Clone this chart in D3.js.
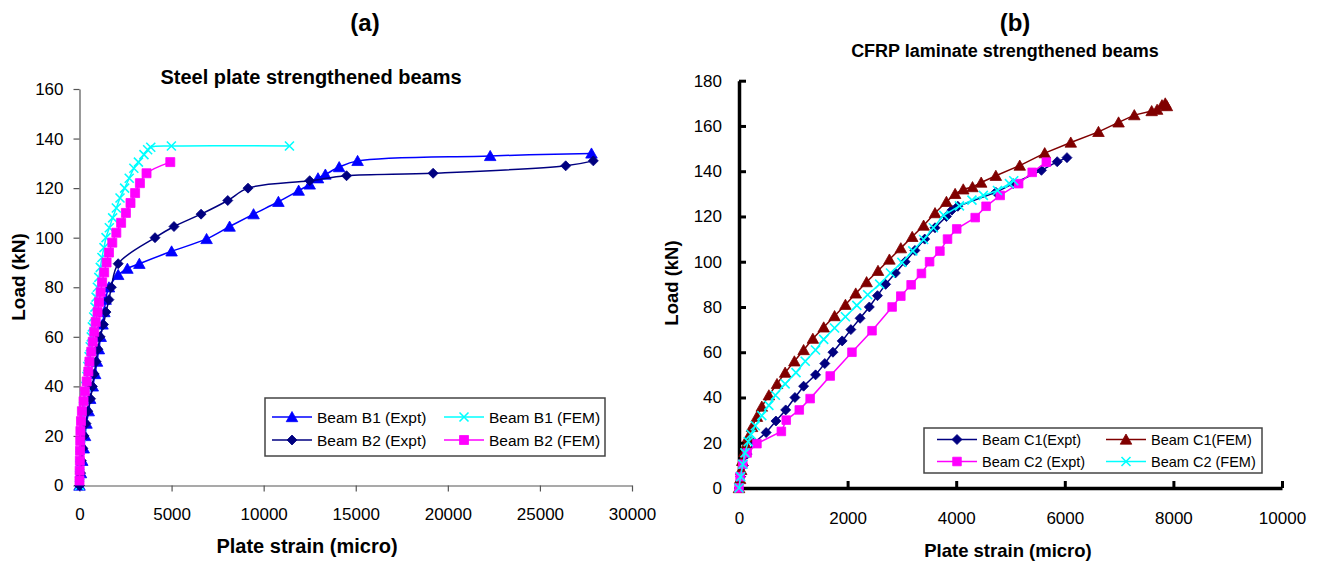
<!DOCTYPE html>
<html lang="en">
<head>
    <meta charset="UTF-8">
    <title>Load vs plate strain</title>
    <style>
        body { margin: 0; background: #fff; }
        text { font-family: "Liberation Sans", Arial, sans-serif; }
    </style>
</head>
<body>
<script src="https://d3js.org/d3.v7.min.js"></script>
<div id="chart"></div>
<script>

// ---- data: [plate strain (micro), load (kN)] ----

// (a) steel plate strengthened beams
const b1Expt = [[0,0],[80,5],[150,10],[230,15],[300,20],[380,25],[500,30],[580,35],[720,40],[850,45],[950,50],
    [1050,55],[1150,60],[1250,65],[1350,70],[1420,75],[1600,80],[2100,85],[2600,87.5],[3250,89.5],[5000,94.5],
    [6900,99.5],[8150,104.5],[9450,109.5],[10800,114.5],[11900,119],[12500,121.5],[12950,124],[13350,125.5],
    [14100,128.5],[15100,131],[22300,133],[27800,134]];
const b1Fem = [[0,0],[10,4],[20,8],[40,12],[60,16],[90,20],[130,24],[180,28],[220,32],[280,36],[340,40],[400,44],
    [450,48],[520,52],[580,56],[640,60],[700,64],[770,68],[840,72],[900,76],[970,80],[1050,84],[1130,88],
    [1220,92],[1330,96],[1440,100],[1620,104],[1800,108],[2000,112],[2200,116],[2450,120],[2700,124],
    [2950,128],[3200,130.5],[3500,133.5],[3700,135.5],[3870,136.5],[4990,137],[11400,137]];
const b2Expt = [[0,0],[60,5],[100,10],[180,15],[250,20],[350,25],[450,30],[600,35],[700,40],[800,45],[900,50],
    [1000,55],[1120,60],[1300,65],[1440,70],[1600,75],[1730,80],[2100,89.5],[4100,100],[5130,104.5],
    [6600,109.5],[8050,115],[9150,120],[12500,123],[14500,125],[19200,126],[26400,129],[27900,131]];
const b2Fem = [[0,2],[10,6],[20,10],[30,14],[40,18],[50,22],[80,26],[130,30],[220,34],[290,38],[390,42],[480,46],
    [540,50],[640,54],[720,58],[800,62],[880,66],[980,70],[1060,74],[1150,78],[1230,82],[1340,86],[1470,90],
    [1600,94],[1780,98],[2000,102],[2260,106],[2520,110],[2770,114],[3020,118],[3280,122],[3640,126],[4930,130.5]];

// (b) CFRP laminate strengthened beams
const c1Expt = [[0,0],[30,5],[80,10],[150,15],[280,20],[500,24.5],[680,29.6],[860,34.5],[1030,40],[1190,45],
    [1410,50],[1580,55],[1730,60],[1900,65],[2060,70],[2230,75],[2400,80],[2550,85],[2700,90],[2880,95],
    [3060,100],[3240,105],[3420,110],[3610,115],[3820,120],[3920,122.8],[4030,124.5],[4730,130.7],
    [5050,134.5],[5570,140.4],[5860,144.2],[6040,146]];
const c1Fem = [[0,0],[20,4],[40,8],[60,12],[100,16],[130,19],[170,22.5],[240,27],[330,31.5],[420,36],[550,41],
    [700,46],[850,51],[1020,56],[1190,61],[1360,66],[1560,71],[1760,76],[1960,81],[2150,86],[2350,91],
    [2560,96],[2770,101],[2980,106],[3190,111],[3400,116],[3610,121.5],[3820,126.5],[3980,130],[4130,132],
    [4300,133],[4460,135],[4730,138],[5170,142.5],[5630,148],[6110,152.7],[6620,157.4],[6990,161.6],
    [7280,164.8],[7600,166.6],[7700,167.2],[7790,169.2],[7850,170],[7880,168.8]];
const c2Expt = [[0,0],[20,5],[70,10.5],[150,15.5],[330,19.6],[780,25],[870,30],[1110,34.5],[1310,39.5],
    [1680,49.5],[2080,60],[2450,69.5],[2820,80],[2980,84.8],[3170,89.8],[3360,94.8],[3510,100],[3700,104.7],
    [3840,110],[4010,114.5],[4350,119.5],[4550,124.5],[4810,129.3],[5150,134.5],[5400,139.5],[5660,144]];
const c2Fem = [[0,0],[30,5],[70,10.5],[110,15.5],[170,20.5],[220,23.7],[300,27.5],[420,32],[550,36.5],[670,41],
    [850,46],[1050,51],[1220,56],[1410,61],[1560,65.7],[1760,70.7],[1960,75.7],[2170,80.7],[2370,85.4],
    [2590,90.1],[2790,95],[3000,99.7],[3200,104.8],[3400,109.8],[3580,115],[3770,120.5],[4060,124.7],
    [4290,127.2],[4500,129.3],[4760,131.5],[4980,134.5],[5060,135.8]];

// tick values
const xTicksA = [0,5000,10000,15000,20000,25000,30000];
const yTicksA = [0,20,40,60,80,100,120,140,160];
const xTicksB = [0,2000,4000,6000,8000,10000];
const yTicksB = [0,20,40,60,80,100,120,140,160,180];

// ---- drawing ----
const width = 1330;
const height = 564;

const svg = d3.select("#chart").append("svg")
    .attr("width", width)
    .attr("height", height);

// marker shapes, r = half size
function markerPath(type, r) {
    if (type === "triangle") return `M0,${-r}L${r*1.05},${r*0.85}L${-r*1.05},${r*0.85}Z`;
    if (type === "diamond") return `M0,${-r}L${r},0L0,${r}L${-r},0Z`;
    if (type === "square") return `M${-r},${-r}h${2*r}v${2*r}h${-2*r}Z`;
    return `M${-r},${-r}L${r},${r}M${-r},${r}L${r},${-r}`; // cross
}

function drawSeries(g, data, x, y, s, curve) {
    const line = d3.line()
        .x(d => x(d[0]))
        .y(d => y(d[1]))
        .curve(curve);
    g.append("path")
        .datum(data)
        .attr("d", line)
        .attr("fill", "none")
        .attr("stroke", s.color)
        .attr("stroke-width", 1.5);
    g.selectAll(null)
        .data(data)
        .enter()
        .append("path")
        .attr("transform", d => `translate(${x(d[0])},${y(d[1])})`)
        .attr("d", markerPath(s.marker, s.r))
        .attr("fill", s.marker === "cross" ? "none" : s.color)
        .attr("stroke", s.color)
        .attr("stroke-width", s.marker === "cross" ? 1.6 : 0.8);
}

function drawLegend(g, items, box, cols, rows, fontSize) {
    g.append("rect")
        .attr("x", box[0]).attr("y", box[1])
        .attr("width", box[2]).attr("height", box[3])
        .attr("fill", "#fff")
        .attr("stroke", "#444")
        .attr("stroke-width", 1.5);
    items.forEach((s, i) => {
        const cx = cols[i % 2];
        const cy = rows[Math.floor(i / 2)];
        g.append("line")
            .attr("x1", cx - 20).attr("x2", cx + 20)
            .attr("y1", cy).attr("y2", cy)
            .attr("stroke", s.color)
            .attr("stroke-width", 1.5);
        g.append("path")
            .attr("transform", `translate(${cx},${cy})`)
            .attr("d", markerPath(s.marker, s.r))
            .attr("fill", s.marker === "cross" ? "none" : s.color)
            .attr("stroke", s.color)
            .attr("stroke-width", s.marker === "cross" ? 1.6 : 0.8);
        g.append("text")
            .attr("x", cx + 25)
            .attr("y", cy + fontSize * 0.36)
            .attr("font-size", fontSize)
            .text(s.name);
    });
}

// ===== panel (a) =====
const xa = d3.scaleLinear().domain([0, 30000]).range([79.5, 632]);
const ya = d3.scaleLinear().domain([0, 160]).range([485.5, 89]);

const ga = svg.append("g");

ga.append("g")
    .attr("transform", "translate(0,485.5)")
    .call(d3.axisBottom(xa).tickValues(xTicksA).tickSize(6).tickSizeOuter(0).tickPadding(16).tickFormat(d3.format("d")))
    .call(a => a.selectAll("text").attr("font-size", 17).attr("fill", "#000"));
ga.append("g")
    .attr("transform", "translate(79.5,0)")
    .call(d3.axisLeft(ya).tickValues(yTicksA).tickSize(6).tickSizeOuter(0).tickPadding(10))
    .call(a => a.selectAll("text").attr("font-size", 17).attr("fill", "#000"));
ga.selectAll(".domain, .tick line").attr("stroke", "#555").attr("stroke-width", 1.2);
ga.selectAll(".tick text").attr("font-family", '"Liberation Sans", Arial, sans-serif');

const seriesA = [
    { name: "Beam B1  (Expt)", data: b1Expt, color: "#0000ff", marker: "triangle", r: 5.5 },
    { name: "Beam B1  (FEM)", data: b1Fem, color: "#00ffff", marker: "cross", r: 4.5 },
    { name: "Beam B2  (Expt)", data: b2Expt, color: "#000080", marker: "diamond", r: 5 },
    { name: "Beam B2  (FEM)", data: b2Fem, color: "#ff00ff", marker: "square", r: 4.5 }
];
seriesA.forEach(s => drawSeries(ga, s.data, xa, ya, s, d3.curveCatmullRom.alpha(0.5)));

drawLegend(ga, seriesA, [265, 398, 340, 58], [292, 464], [417, 440], 15.5);

ga.append("text").attr("x", 365).attr("y", 31).attr("text-anchor", "middle")
    .attr("font-size", 24).attr("font-weight", "bold").text("(a)");
ga.append("text").attr("x", 311).attr("y", 84).attr("text-anchor", "middle")
    .attr("font-size", 20).attr("font-weight", "bold").text("Steel plate strengthened beams");
ga.append("text").attr("x", 307).attr("y", 553).attr("text-anchor", "middle")
    .attr("font-size", 20).attr("font-weight", "bold").text("Plate strain (micro)");
ga.append("text").attr("transform", "translate(25,277) rotate(-90)").attr("text-anchor", "middle")
    .attr("font-size", 19).attr("font-weight", "bold").text("Load (kN)");

// ===== panel (b) =====
const xb = d3.scaleLinear().domain([0, 10000]).range([739, 1282]);
const yb = d3.scaleLinear().domain([0, 180]).range([488, 80.7]);

const gb = svg.append("g");

gb.append("g")
    .attr("transform", "translate(0,488)")
    .call(d3.axisBottom(xb).tickValues(xTicksB).tickSize(-7).tickSizeOuter(0).tickPadding(24).tickFormat(d3.format("d")))
    .call(a => a.selectAll("text").attr("font-size", 17).attr("fill", "#000"));
gb.append("g")
    .attr("transform", "translate(739,0)")
    .call(d3.axisLeft(yb).tickValues(yTicksB).tickSize(-7).tickSizeOuter(0).tickPadding(17))
    .call(a => a.selectAll("text").attr("font-size", 17).attr("fill", "#000"));
gb.selectAll(".domain").attr("stroke", "#000").attr("stroke-width", 3.5);
gb.selectAll(".tick line").attr("stroke", "#000").attr("stroke-width", 3);
gb.selectAll(".tick text").attr("font-family", '"Liberation Sans", Arial, sans-serif');

const seriesB = [
    { name: "Beam C1(Expt)", data: c1Expt, color: "#000080", marker: "diamond", r: 5 },
    { name: "Beam C1(FEM)", data: c1Fem, color: "#800000", marker: "triangle", r: 5.5 },
    { name: "Beam C2 (Expt)", data: c2Expt, color: "#ff00ff", marker: "square", r: 4.3 },
    { name: "Beam C2 (FEM)", data: c2Fem, color: "#00ffff", marker: "cross", r: 4.5 }
];
seriesB.forEach(s => drawSeries(gb, s.data, xb, yb, s, d3.curveLinear));

drawLegend(gb, seriesB, [924, 428, 338, 45], [957, 1126], [439.5, 461.5], 14.5);

gb.append("text").attr("x", 1015).attr("y", 31).attr("text-anchor", "middle")
    .attr("font-size", 24).attr("font-weight", "bold").text("(b)");
gb.append("text").attr("x", 1005).attr("y", 57).attr("text-anchor", "middle")
    .attr("font-size", 18).attr("font-weight", "bold").text("CFRP laminate strengthened beams");
gb.append("text").attr("x", 1008).attr("y", 557).attr("text-anchor", "middle")
    .attr("font-size", 18.5).attr("font-weight", "bold").text("Plate strain (micro)");
gb.append("text").attr("transform", "translate(678,283) rotate(-90)").attr("text-anchor", "middle")
    .attr("font-size", 18.5).attr("font-weight", "bold").text("Load (kN)");

</script>
</body>
</html>
